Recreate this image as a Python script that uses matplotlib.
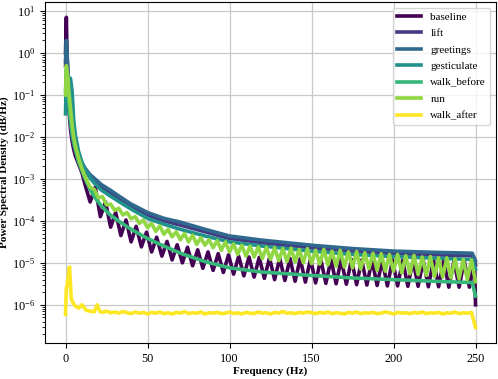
import numpy as np
import matplotlib
matplotlib.use("Agg")
import matplotlib.pyplot as plt

plt.rcParams['font.family'] = ['Liberation Serif', 'DejaVu Serif']

# ---- data (log10 of PSD) ----
smooth_freq = [0, 0.5, 1, 1.5, 2, 3, 4, 5, 6, 8, 10, 12, 15, 18, 22, 27, 33, 40, 50,
               60, 70, 85, 100, 120, 150, 175, 200, 225, 248, 250]

lift_log = [-0.3, 0.2, -0.1, -0.6, -1.1, -1.65, -2.0, -2.2, -2.33, -2.53, -2.67, -2.8,
            -2.95, -3.06, -3.2, -3.33, -3.48, -3.65, -3.86, -4.0, -4.1, -4.26, -4.42,
            -4.52, -4.64, -4.72, -4.78, -4.81, -4.83, -5.05]
greetings_log = [-0.2, 0.3, 0.0, -0.5, -1.05, -1.6, -1.95, -2.15, -2.28, -2.48, -2.62,
                 -2.75, -2.9, -3.0, -3.14, -3.26, -3.42, -3.6, -3.8, -3.94, -4.03, -4.2,
                 -4.36, -4.46, -4.58, -4.66, -4.72, -4.75, -4.77, -4.95]
gesticulate_log = [-1.45, -0.4, -0.5, -0.7, -0.75, -0.6, -0.9, -1.6, -1.95, -2.35, -2.6,
                   -2.78, -2.98, -3.12, -3.27, -3.4, -3.55, -3.72, -3.94, -4.08, -4.2,
                   -4.36, -4.5, -4.6, -4.72, -4.8, -4.85, -4.89, -4.92, -5.15]
walk_before_log = [-0.9, -0.5, -0.6, -0.9, -1.2, -1.6, -1.9, -2.1, -2.3, -2.6, -2.8, -3.0,
                   -3.25, -3.45, -3.65, -3.85, -4.02, -4.2, -4.42, -4.6, -4.77, -4.97,
                   -5.12, -5.22, -5.3, -5.36, -5.4, -5.44, -5.47, -5.79]

baseline_freq = [0, 0.5, 1, 1.5, 2, 3, 4, 5, 6, 8, 10, 12,
                 15, 18.1, 21.25, 24.4, 27.5, 30.6, 33.75, 36.9, 40, 43.1, 46.25, 49.4,
                 52.5, 55.6, 58.75, 61.9, 65, 68.1, 71.25, 74.4, 77.5, 80.6, 83.75, 86.9,
                 90, 93.1, 96.25, 99.4, 102.5, 105.6, 108.75, 111.9, 115, 118.1, 121.25,
                 124.4, 127.5, 130.6, 133.75, 136.9, 140, 143.1, 146.25, 149.4, 152.5,
                 155.6, 158.75, 161.9, 165, 168.1, 171.25, 174.4, 177.5, 180.6, 183.75,
                 186.9, 190, 193.1, 196.25, 199.4, 202.5, 205.6, 208.75, 211.9, 215,
                 218.1, 221.25, 224.4, 227.5, 230.6, 233.75, 236.9, 240, 243.1, 246.25,
                 249.4, 250]
baseline_log = [0.0, 0.85, -0.2, -0.8, -1.3, -1.8, -2.1, -2.3, -2.45, -2.65, -2.85, -3.15,
                -3.55, -3.2, -3.9, -3.55, -4.15, -3.8, -4.35, -3.98, -4.5, -4.13, -4.62,
                -4.27, -4.74, -4.39, -4.84, -4.49, -4.93, -4.57, -5.0, -4.63, -5.07, -4.69,
                -5.13, -4.74, -5.18, -4.78, -5.23, -4.81, -5.27, -4.84, -5.31, -4.86, -5.34,
                -4.87, -5.37, -4.88, -5.4, -4.89, -5.42, -4.9, -5.44, -4.9, -5.46, -4.91,
                -5.48, -4.91, -5.49, -4.92, -5.5, -4.92, -5.51, -4.92, -5.52, -4.93, -5.53,
                -4.93, -5.54, -4.93, -5.55, -4.93, -5.55, -4.94, -5.56, -4.94, -5.56, -4.94,
                -5.57, -4.94, -5.57, -4.94, -5.58, -4.95, -5.58, -4.95, -5.58, -4.95, -6.0]

run_freq = [0, 0.5, 1, 1.5, 2, 3, 4, 5, 6, 8, 10, 12,
            15, 17.5, 20, 22.5, 25, 27.5, 30, 32.5, 35, 37.5, 40, 42.5, 45, 47.5, 50,
            52.5, 55, 57.5, 60, 62.5, 65, 67.5, 70, 72.5, 75, 77.5, 80, 82.5, 85, 87.5,
            90, 92.5, 95, 97.5, 100, 102.5, 105, 107.5, 110, 112.5, 115, 117.5, 120,
            122.5, 125, 127.5, 130, 132.5, 135, 137.5, 140, 142.5, 145, 147.5, 150,
            152.5, 155, 157.5, 160, 162.5, 165, 167.5, 170, 172.5, 175, 177.5, 180,
            182.5, 185, 187.5, 190, 192.5, 195, 197.5, 200, 202.5, 205, 207.5, 210,
            212.5, 215, 217.5, 220, 222.5, 225, 227.5, 230, 232.5, 235, 237.5, 240,
            242.5, 245, 247.5, 250]
run_log = [-1.0, -0.3, -0.45, -0.6, -0.9, -1.3, -1.7, -2.0, -2.2, -2.5, -2.75, -2.95,
           -3.2, -3.25, -3.45, -3.42, -3.62, -3.6, -3.75, -3.7, -3.86, -3.8, -3.95, -3.9,
           -4.06, -3.98, -4.16, -4.06, -4.25, -4.12, -4.32, -4.2, -4.38, -4.26, -4.45,
           -4.3, -4.5, -4.34, -4.56, -4.4, -4.58, -4.45, -4.64, -4.47, -4.7, -4.5, -4.74,
           -4.55, -4.8, -4.58, -4.84, -4.6, -4.86, -4.62, -4.9, -4.63, -4.92, -4.64, -4.95,
           -4.66, -4.97, -4.65, -4.98, -4.68, -5.0, -4.66, -5.02, -4.7, -5.03, -4.68,
           -5.05, -4.72, -5.08, -4.7, -5.1, -4.74, -5.12, -4.73, -5.15, -4.76, -5.14,
           -4.77, -5.18, -4.78, -5.2, -4.8, -5.2, -4.8, -5.24, -4.83, -5.26, -4.82, -5.28,
           -4.86, -5.3, -4.85, -5.33, -4.88, -5.34, -4.88, -5.36, -4.9, -5.38, -4.92,
           -5.4, -4.93, -5.45]

walk_after_freq = [0, 0.5, 1, 1.5, 2, 2.5, 3, 3.5, 4.5, 6, 8, 10, 12.5, 15, 17.5, 19.3,
                   21, 23, 25, 27.5, 30, 32.5, 35, 37.5, 40, 42.5, 45, 47.5, 50, 52.5,
                   55, 57.5, 60, 62.5, 65, 67.5, 70, 72.5, 75, 77.5, 80, 82.5, 85, 87.5,
                   90, 92.5, 95, 97.5, 100, 102.5, 105, 107.5, 110, 112.5, 115, 117.5,
                   120, 122.5, 125, 127.5, 130, 132.5, 135, 137.5, 140, 142.5, 145,
                   147.5, 150, 152.5, 155, 157.5, 160, 162.5, 165, 167.5, 170, 172.5,
                   175, 177.5, 180, 182.5, 185, 187.5, 190, 192.5, 195, 197.5, 200,
                   202.5, 205, 207.5, 210, 212.5, 215, 217.5, 220, 222.5, 225, 227.5,
                   230, 232.5, 235, 237.5, 240, 242.5, 245, 247.5, 250]
walk_after_log = [-6.23, -5.6, -5.55, -5.4, -5.15, -5.1, -5.5, -5.85, -5.95, -6.03, -6.08,
                  -6.0, -6.13, -6.15, -6.17, -6.0, -6.16, -6.18, -6.15, -6.19, -6.17,
                  -6.2, -6.16, -6.19, -6.21, -6.17, -6.2, -6.18, -6.22, -6.18, -6.2,
                  -6.17, -6.21, -6.19, -6.22, -6.18, -6.2, -6.16, -6.21, -6.19, -6.2,
                  -6.17, -6.22, -6.19, -6.2, -6.18, -6.21, -6.2, -6.17, -6.21, -6.19,
                  -6.22, -6.18, -6.2, -6.21, -6.17, -6.2, -6.19, -6.22, -6.18, -6.2,
                  -6.16, -6.2, -6.19, -6.21, -6.18, -6.2, -6.17, -6.19, -6.21, -6.18,
                  -6.2, -6.17, -6.21, -6.19, -6.2, -6.22, -6.18, -6.2, -6.17, -6.21,
                  -6.19, -6.2, -6.18, -6.21, -6.2, -6.17, -6.19, -6.22, -6.18, -6.2,
                  -6.19, -6.21, -6.18, -6.2, -6.17, -6.21, -6.19, -6.2, -6.18, -6.22,
                  -6.19, -6.2, -6.17, -6.21, -6.19, -6.2, -6.18, -6.54]

x_ticks = [0, 50, 100, 150, 200, 250]
y_ticks = [1e-6, 1e-5, 1e-4, 1e-3, 1e-2, 1e-1, 1e0, 1e1]

series = [
    ('baseline', baseline_freq, baseline_log),
    ('lift', smooth_freq, lift_log),
    ('greetings', smooth_freq, greetings_log),
    ('gesticulate', smooth_freq, gesticulate_log),
    ('walk_before', smooth_freq, walk_before_log),
    ('run', run_freq, run_log),
    ('walk_after', walk_after_freq, walk_after_log),
]

colors = plt.cm.viridis(np.linspace(0, 1, len(series)))

fig = plt.figure(figsize=(4.98, 3.79), dpi=100)
ax = fig.add_axes([0.0904, 0.095, 0.9056, 0.8997])

for (name, f, v), c in zip(series, colors):
    ax.plot(f, 10 ** np.array(v), color=c, lw=2.6, label=name)

ax.set_yscale('log')
ax.set_xlim(-12.5, 262.5)
ax.set_ylim(10 ** -6.91, 10 ** 1.215)
ax.set_xticks(x_ticks)
ax.set_yticks(y_ticks)
ax.set_xlabel('Frequency (Hz)', fontsize=8, fontweight='bold', labelpad=1)
ax.set_ylabel('Power Spectral Density (dB/Hz)', fontsize=8, fontweight='bold', labelpad=2)
ax.tick_params(labelsize=8.8)
ax.grid(True, color='#c8c8c8', lw=0.9)
ax.legend(loc='upper right', fontsize=8, labelspacing=0.6, handlelength=2.2,
          borderaxespad=0.5)

fig.savefig('out.png', dpi=100)
